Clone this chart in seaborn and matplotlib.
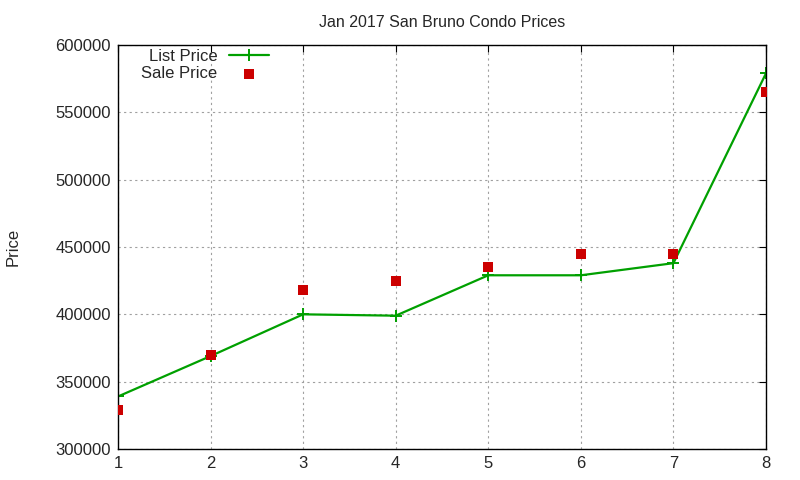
import numpy as np
import pandas as pd
import seaborn as sns
import matplotlib
matplotlib.use("Agg")
import matplotlib.pyplot as plt

# data
listing = [1, 2, 3, 4, 5, 6, 7, 8]
list_price = [339000, 369000, 400000, 399000, 429000, 429000, 438000, 579000]
sale_price = [329000, 370000, 418000, 425000, 435000, 445000, 445000, 565000]

df = pd.DataFrame({"n": listing, "list": list_price, "sale": sale_price})

sns.set_style("white")
plt.rcParams["font.family"] = ["Liberation Sans", "DejaVu Sans"]
plt.rcParams["font.size"] = 12

fig = plt.figure(figsize=(8, 4.8), dpi=100)
ax = fig.add_axes([0.1475, 0.0646, 0.81, 0.8416])

green = "#00a000"
sns.lineplot(data=df, x="n", y="list", ax=ax, color=green, lw=1.6,
             marker="+", markersize=9, markeredgewidth=1.4,
             markeredgecolor=green, markerfacecolor=green, label="List Price")
sns.scatterplot(data=df, x="n", y="sale", ax=ax, color="#cc0000", marker="s",
                s=45, linewidth=0, label="Sale Price", zorder=3)

ax.set_xlim(1, 8)
ax.set_ylim(300000, 600000)
ax.set_xticks(range(1, 9))
ax.set_yticks(range(300000, 600001, 50000))
ax.ticklabel_format(axis="y", style="plain", useOffset=False)
ax.grid(True, color="#a0a0a0", linestyle=(0, (2, 3)), lw=0.8)
ax.tick_params(direction="in", length=5, top=True, right=True, labelsize=12,
               color="black", pad=5)
for s in ax.spines.values():
    s.set_color("black")
    s.set_linewidth(1)

ax.set_xlabel("")
ax.set_ylabel("")
fig.text(0.016, 0.485, "Price", rotation=90, ha="center", va="center", fontsize=12)
ax.set_title("Jan 2017 San Bruno Condo Prices", fontsize=11.5, pad=13)

leg = ax.legend(loc="upper left", bbox_to_anchor=(0.018, 1.02), frameon=False,
                markerfirst=False, handlelength=2.4, handletextpad=0.7,
                labelspacing=0.15, fontsize=12, borderaxespad=0.3)

fig.savefig("out.png", dpi=100)
